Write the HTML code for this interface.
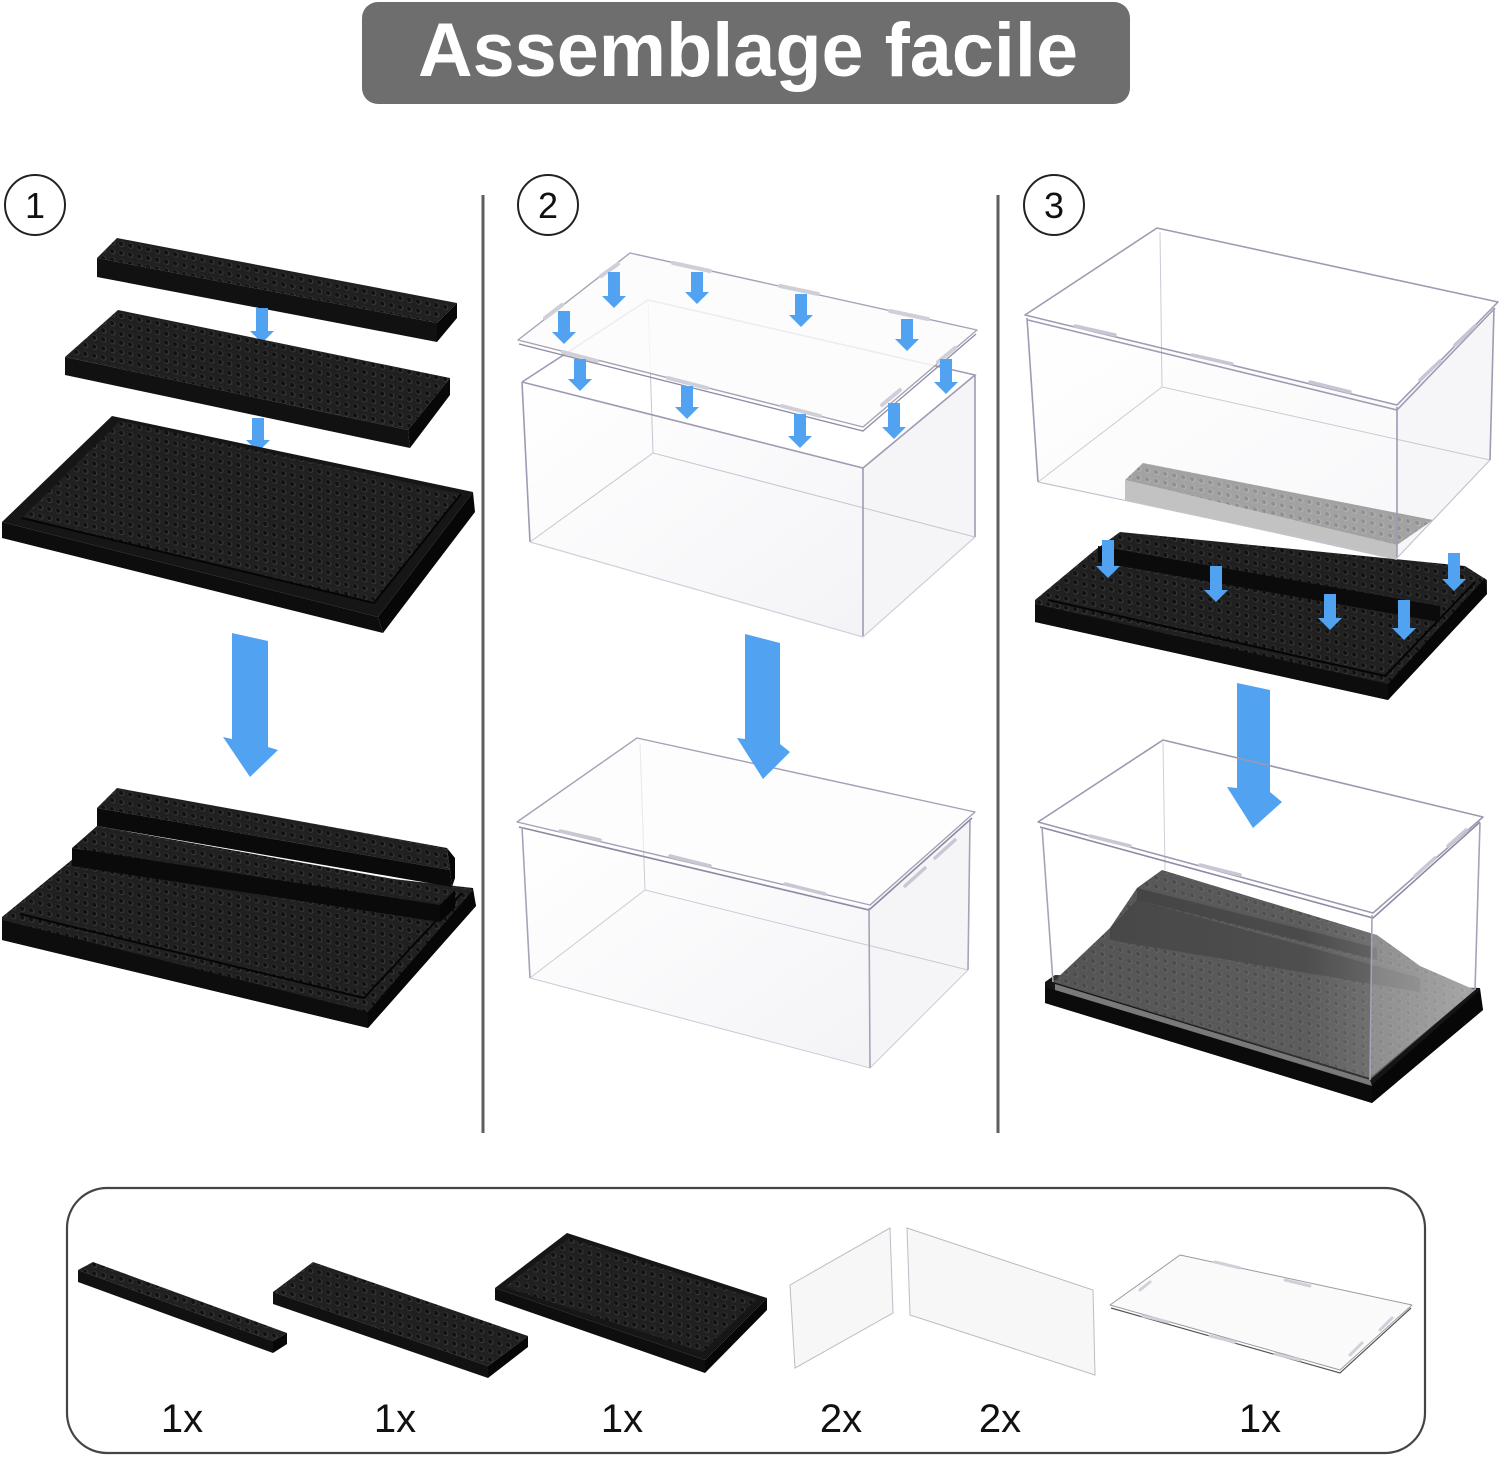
<!DOCTYPE html>
<html><head><meta charset="utf-8"><style>
html,body{margin:0;padding:0;background:#fff;}
svg{display:block;}
text{font-family:"Liberation Sans",Arial,sans-serif;}
</style></head><body>
<svg width="1500" height="1457" viewBox="0 0 1500 1457" xmlns="http://www.w3.org/2000/svg">
<defs>
<pattern id="st" width="9" height="9" patternUnits="userSpaceOnUse" patternTransform="skewY(11)">
<rect width="9" height="9" fill="#202020"/>
<circle cx="4.5" cy="4.5" r="3" fill="#383838"/>
<circle cx="4.1" cy="4.3" r="2.2" fill="#111"/>
</pattern>
<pattern id="sg" width="9" height="9" patternUnits="userSpaceOnUse" patternTransform="skewY(14)">
<rect width="9" height="9" fill="#3d3d3d"/>
<circle cx="4.5" cy="4.5" r="3" fill="#4c4c4c"/>
<circle cx="4.1" cy="4.3" r="2.2" fill="#303030"/>
</pattern>
<pattern id="sl" width="9" height="9" patternUnits="userSpaceOnUse" patternTransform="skewY(11)">
<rect width="9" height="9" fill="#a2a2a2"/>
<circle cx="4.5" cy="4.5" r="3" fill="#b4b4b4"/>
<circle cx="4.1" cy="4.3" r="2.2" fill="#909090"/>
</pattern>
<linearGradient id="glass" x1="0" y1="0" x2="1" y2="1">
<stop offset="0" stop-color="#ffffff"/>
<stop offset="1" stop-color="#f1f1f5"/>
</linearGradient>
<linearGradient id="haze" x1="0" y1="0" x2="1" y2="0">
<stop offset="0" stop-color="#fff" stop-opacity="0"/>
<stop offset="0.6" stop-color="#fff" stop-opacity="0.05"/>
<stop offset="1" stop-color="#fff" stop-opacity="0.35"/>
</linearGradient>
</defs>

<!-- Title -->
<rect x="362" y="2" width="768" height="102" rx="16" fill="#6e6e6e"/>
<text x="748" y="76" font-size="76" font-weight="bold" fill="#fff" text-anchor="middle" textLength="660" lengthAdjust="spacingAndGlyphs">Assemblage facile</text>

<!-- Step circles -->
<circle cx="35" cy="205" r="30" fill="none" stroke="#222" stroke-width="2"/>
<text x="35" y="218" font-size="36" text-anchor="middle" fill="#111">1</text>
<circle cx="548" cy="205" r="30" fill="none" stroke="#222" stroke-width="2"/>
<text x="548" y="218" font-size="36" text-anchor="middle" fill="#111">2</text>
<circle cx="1054" cy="205" r="30" fill="none" stroke="#222" stroke-width="2"/>
<text x="1054" y="218" font-size="36" text-anchor="middle" fill="#111">3</text>

<!-- Separators -->
<line x1="483" y1="195" x2="483" y2="1133" stroke="#5e5e5e" stroke-width="3"/>
<line x1="998" y1="195" x2="998" y2="1133" stroke="#5e5e5e" stroke-width="3"/>

<!-- ============ PANEL 1 ============ -->
<polygon points="97,258 117,238 457,303 437,323" fill="url(#st)"/>
<polygon points="97,258 437,323 437,342 97,277" fill="#111"/>
<polygon points="437,323 457,303 457,318 437,342" fill="#080808"/>
<polygon points="256,308 268,308 268,331 274,331 262,343 250,331 256,331" fill="#52a2f2"/>
<polygon points="65,357 118,310 450,378 408,430" fill="url(#st)"/>
<polygon points="65,357 408,430 410,448 65,375" fill="#111"/>
<polygon points="408,430 450,378 450,395 410,448" fill="#080808"/>
<polygon points="252,418 264,418 264,440 270,440 258,452 246,440 252,440" fill="#52a2f2"/>
<polygon points="2,522 112,416 473,492 378,617" fill="#161616"/>
<polygon points="22,518 120,421 461,494 374,603" fill="url(#st)"/>
<polyline points="22,518 374,603 461,494" fill="none" stroke="#050505" stroke-width="2"/>
<polygon points="2,522 378,617 383,633 2,538" fill="#0d0d0d"/>
<polygon points="378,617 473,492 475,512 383,633" fill="#070707"/>
<polygon points="232,633 268,641 268,747 278,750 250,777 223,737 232,739" fill="#52a2f2"/>
<!-- assembled -->
<polygon points="2,917 90,845 473,888 476,906 368,1028 2,940" fill="url(#st)"/>
<polyline points="20,914 364,998 462,893" fill="none" stroke="#050505" stroke-width="2"/>
<polygon points="2,920 368,1012 368,1028 2,940" fill="#0d0d0d"/>
<polygon points="368,1012 473,890 476,906 368,1028" fill="#070707"/>
<polygon points="72,848 97,826 455,890 440,905" fill="url(#st)"/>
<polygon points="72,848 440,905 440,922 72,866" fill="#0a0a0a"/>
<polygon points="440,905 455,890 455,908 440,922" fill="#060606"/>
<polygon points="97,808 117,788 447,848 450,870" fill="url(#st)"/>
<polygon points="97,808 450,870 452,887 97,826" fill="#0a0a0a"/>
<polygon points="447,848 455,858 455,878 452,887 450,870" fill="#060606"/>

<!-- ============ PANEL 2 ============ -->
<polygon points="522,382 863,468 863,637 530,542" fill="url(#glass)" opacity="0.8"/>
<polygon points="863,468 975,375 975,537 863,637" fill="#f5f5f8"/>
<g fill="none" stroke="#c6c6d2" stroke-width="1">
<polyline points="648,300 653,453 975,537"/>
<line x1="653" y1="453" x2="530" y2="542"/>
</g>
<g fill="none" stroke="#9c9cb2" stroke-width="1.6">
<polyline points="522,382 648,300 975,375 863,468 522,382"/>
<line x1="522" y1="382" x2="530" y2="542"/>
<line x1="863" y1="468" x2="863" y2="637"/>
<line x1="975" y1="375" x2="975" y2="537"/>
</g>
<polyline points="530,542 863,637 975,537" fill="none" stroke="#cfcfd8" stroke-width="1.2"/>
<polygon points="518,340 630,253 977,330 863,427" fill="#fbfbfd" fill-opacity="0.85" stroke="#a4a4b6" stroke-width="1.4" stroke-linejoin="round"/>
<polyline points="519,344 863,431 976,334" fill="none" stroke="#8c8ca4" stroke-width="1.3"/>
<g stroke="#cfcfda" stroke-width="4" stroke-linecap="round">
<line x1="563" y1="352" x2="597" y2="361"/>
<line x1="668" y1="378" x2="707" y2="388"/>
<line x1="782" y1="406" x2="820" y2="416"/>
<line x1="545" y1="318" x2="562" y2="305"/>
<line x1="601" y1="276" x2="618" y2="264"/>
<line x1="673" y1="263" x2="710" y2="271"/>
<line x1="780" y1="286" x2="818" y2="294"/>
<line x1="890" y1="311" x2="928" y2="319"/>
<line x1="938" y1="362" x2="955" y2="348"/>
<line x1="882" y1="405" x2="900" y2="390"/>
</g>
<g fill="#52a2f2">
<polygon points="608,272 620,272 620,296 626,296 614,308 602,296 608,296"/>
<polygon points="691,272 703,272 703,292 709,292 697,304 685,292 691,292"/>
<polygon points="795,294 807,294 807,315 813,315 801,327 789,315 795,315"/>
<polygon points="901,319 913,319 913,339 919,339 907,351 895,339 901,339"/>
<polygon points="558,311 570,311 570,332 576,332 564,344 552,332 558,332"/>
<polygon points="574,359 586,359 586,379 592,379 580,391 568,379 574,379"/>
<polygon points="681,386 693,386 693,407 699,407 687,419 675,407 681,407"/>
<polygon points="794,414 806,414 806,436 812,436 800,448 788,436 794,436"/>
<polygon points="888,403 900,403 900,427 906,427 894,439 882,427 888,427"/>
<polygon points="940,359 952,359 952,382 958,382 946,394 934,382 940,382"/>
</g>
<!-- assembled box -->
<polygon points="522,827 868,907 870,1068 530,978" fill="url(#glass)" opacity="0.8"/>
<polygon points="868,907 970,820 968,970 870,1068" fill="#f5f5f8"/>
<g fill="none" stroke="#cbcbd6" stroke-width="1">
<polyline points="640,743 645,890 968,970"/>
<line x1="645" y1="890" x2="530" y2="978"/>
<polyline points="530,978 870,1068 968,970"/>
</g>
<polygon points="517,822 637,738 975,812 870,905" fill="#fcfcfd" fill-opacity="0.6" stroke="#a2a2b6" stroke-width="1.4" stroke-linejoin="round"/>
<polyline points="519,827 869,910 972,818" fill="none" stroke="#8a8aa2" stroke-width="1.6"/>
<g fill="none" stroke="#a4a4b8" stroke-width="1.6">
<line x1="522" y1="827" x2="530" y2="978"/>
<line x1="869" y1="908" x2="870" y2="1068"/>
<line x1="970" y1="820" x2="968" y2="970"/>
</g>
<g stroke="#c8c8d4" stroke-width="3.5" stroke-linecap="round">
<line x1="560" y1="831" x2="600" y2="840"/>
<line x1="670" y1="856" x2="710" y2="866"/>
<line x1="785" y1="884" x2="825" y2="894"/>
<line x1="905" y1="886" x2="925" y2="868"/>
<line x1="935" y1="858" x2="955" y2="840"/>
</g>
<polygon points="745,634 780,643 780,744 790,752 763,779 737,738 745,739" fill="#52a2f2"/>

<!-- ============ PANEL 3 ============ -->
<polygon points="1035,600 1095,550 1120,532 1465,566 1487,580 1487,594 1388,700 1035,622" fill="url(#st)"/>
<polyline points="1048,600 1385,676 1475,582" fill="none" stroke="#050505" stroke-width="2"/>
<polygon points="1035,604 1388,684 1388,700 1035,622" fill="#0d0d0d"/>
<polygon points="1388,684 1485,578 1487,594 1388,700" fill="#070707"/>
<polygon points="1098,546 1440,606 1440,622 1098,562" fill="#0b0b0b"/>
<polygon points="1027,318 1397,405 1397,558 1038,482" fill="url(#glass)" opacity="0.55"/>
<polygon points="1397,405 1494,308 1490,460 1397,558" fill="#f4f4f8" opacity="0.8"/>
<g fill="none" stroke="#cacad6" stroke-width="1">
<polyline points="1160,232 1162,387 1490,460"/>
<line x1="1162" y1="387" x2="1038" y2="482"/>
</g>
<polygon points="1125,480 1143,463 1433,520 1397,545" fill="url(#sl)"/>
<polygon points="1125,480 1397,545 1397,560 1125,500" fill="#c2c2c2"/>
<g fill="none" stroke="#9c9cb2" stroke-width="1.6">
<polygon points="1025,315 1157,228 1498,302 1397,405" stroke-linejoin="round"/>
<polyline points="1028,320 1397,410 1495,308"/>
<line x1="1027" y1="318" x2="1038" y2="482"/>
<line x1="1397" y1="407" x2="1397" y2="558"/>
<line x1="1494" y1="308" x2="1490" y2="460"/>
</g>
<polyline points="1038,482 1397,558 1490,460" fill="none" stroke="#c4c4d0" stroke-width="1.2"/>
<g stroke="#c6c6d4" stroke-width="3.5" stroke-linecap="round">
<line x1="1075" y1="326" x2="1115" y2="335"/>
<line x1="1192" y1="355" x2="1232" y2="364"/>
<line x1="1310" y1="382" x2="1350" y2="392"/>
<line x1="1420" y1="380" x2="1440" y2="361"/>
<line x1="1455" y1="345" x2="1475" y2="326"/>
</g>
<g fill="#52a2f2">
<polygon points="1102,540 1114,540 1114,566 1120,566 1108,578 1096,566 1102,566"/>
<polygon points="1210,566 1222,566 1222,590 1228,590 1216,602 1204,590 1210,590"/>
<polygon points="1324,594 1336,594 1336,618 1342,618 1330,630 1318,618 1324,618"/>
<polygon points="1398,600 1410,600 1410,628 1416,628 1404,640 1392,628 1398,628"/>
<polygon points="1448,553 1460,553 1460,579 1466,579 1454,591 1442,579 1448,579"/>
</g>
<polygon points="1237,683 1270,690 1270,792 1282,802 1253,828 1227,787 1237,788" fill="#52a2f2"/>
<!-- assembled -->
<polygon points="1045,982 1055,975 1480,988 1483,1010 1372,1103 1045,1003" fill="#151515"/>
<polygon points="1045,987 1372,1085 1372,1103 1045,1003" fill="#0b0b0b"/>
<polygon points="1372,1085 1480,990 1483,1010 1372,1103" fill="#070707"/>
<polygon points="1053,982 1110,928 1137,888 1162,870 1377,935 1398,950 1420,966 1475,990 1370,1078" fill="url(#sg)"/>
<polygon points="1110,928 1137,900 1420,978 1420,992 1110,940" fill="#2c2c2c"/>
<polygon points="1137,888 1377,948 1377,960 1137,900" fill="#282828"/>
<polygon points="1053,982 1110,928 1137,888 1162,870 1377,935 1398,950 1420,966 1475,990 1370,1078" fill="url(#haze)"/>
<polygon points="1055,984 1370,1080 1372,1086 1055,990" fill="#ddd" opacity="0.5"/>
<polygon points="1042,827 1372,913 1370,1080 1053,982" fill="#ffffff" opacity="0.12"/>
<polygon points="1372,913 1480,823 1475,990 1370,1080" fill="#ffffff" opacity="0.3"/>
<line x1="1163" y1="742" x2="1165" y2="870" stroke="#cfcfd8" stroke-width="1"/>
<polygon points="1038,822 1163,740 1483,817 1373,913" fill="none" stroke="#9a9ab0" stroke-width="1.6" stroke-linejoin="round"/>
<polyline points="1040,827 1373,918 1480,822" fill="none" stroke="#8a8aa4" stroke-width="1.6"/>
<g fill="none" stroke="#a4a4b8" stroke-width="1.6">
<line x1="1042" y1="827" x2="1053" y2="982"/>
<line x1="1372" y1="915" x2="1370" y2="1080"/>
<line x1="1480" y1="823" x2="1475" y2="990"/>
</g>
<g stroke="#c8c8d4" stroke-width="3.5" stroke-linecap="round">
<line x1="1090" y1="836" x2="1130" y2="846"/>
<line x1="1200" y1="865" x2="1240" y2="875"/>
<line x1="1415" y1="876" x2="1435" y2="858"/>
<line x1="1448" y1="846" x2="1466" y2="830"/>
</g>

<!-- ============ PARTS BOX ============ -->
<rect x="67" y="1188" width="1358" height="265" rx="40" fill="none" stroke="#444" stroke-width="2.2"/>
<polygon points="78,1270 93,1262 287,1333 273,1341" fill="url(#st)"/>
<polygon points="78,1270 273,1341 273,1353 78,1282" fill="#111"/>
<polygon points="273,1341 287,1333 287,1344 273,1353" fill="#070707"/>
<polygon points="273,1292 313,1262 528,1336 488,1366" fill="url(#st)"/>
<polygon points="273,1292 488,1366 488,1378 273,1304" fill="#111"/>
<polygon points="488,1366 528,1336 528,1347 488,1378" fill="#070707"/>
<polygon points="495,1288 567,1233 767,1298 705,1360" fill="#161616"/>
<polygon points="505,1287 569,1238 757,1299 703,1352" fill="url(#st)"/>
<polygon points="495,1288 705,1360 705,1373 495,1300" fill="#0e0e0e"/>
<polygon points="705,1360 767,1298 767,1310 705,1373" fill="#070707"/>
<polygon points="790,1285 890,1228 893,1313 795,1368" fill="#f7f7f8" stroke="#bcbcc6" stroke-width="1"/>
<polygon points="907,1228 1093,1290 1095,1375 910,1315" fill="#f7f7f8" stroke="#bcbcc6" stroke-width="1"/>
<polygon points="1110,1305 1180,1255 1412,1305 1340,1370" fill="#fafafa" stroke="#9a9aa4" stroke-width="1" stroke-linejoin="round"/>
<polyline points="1111,1308 1340,1373 1411,1308" fill="none" stroke="#555" stroke-width="1.2"/>
<g stroke="#d0d0d8" stroke-width="3" stroke-linecap="round">
<line x1="1143" y1="1316" x2="1168" y2="1322"/>
<line x1="1210" y1="1336" x2="1235" y2="1342"/>
<line x1="1275" y1="1354" x2="1300" y2="1360"/>
<line x1="1350" y1="1355" x2="1362" y2="1343"/>
<line x1="1380" y1="1330" x2="1392" y2="1318"/>
<line x1="1215" y1="1262" x2="1240" y2="1268"/>
<line x1="1285" y1="1280" x2="1310" y2="1286"/>
<line x1="1140" y1="1290" x2="1150" y2="1282"/>
</g>
<g font-size="40" fill="#111" text-anchor="middle">
<text x="182" y="1432">1x</text>
<text x="395" y="1432">1x</text>
<text x="622" y="1432">1x</text>
<text x="841" y="1432">2x</text>
<text x="1000" y="1432">2x</text>
<text x="1260" y="1432">1x</text>
</g>
</svg>
</body></html>
